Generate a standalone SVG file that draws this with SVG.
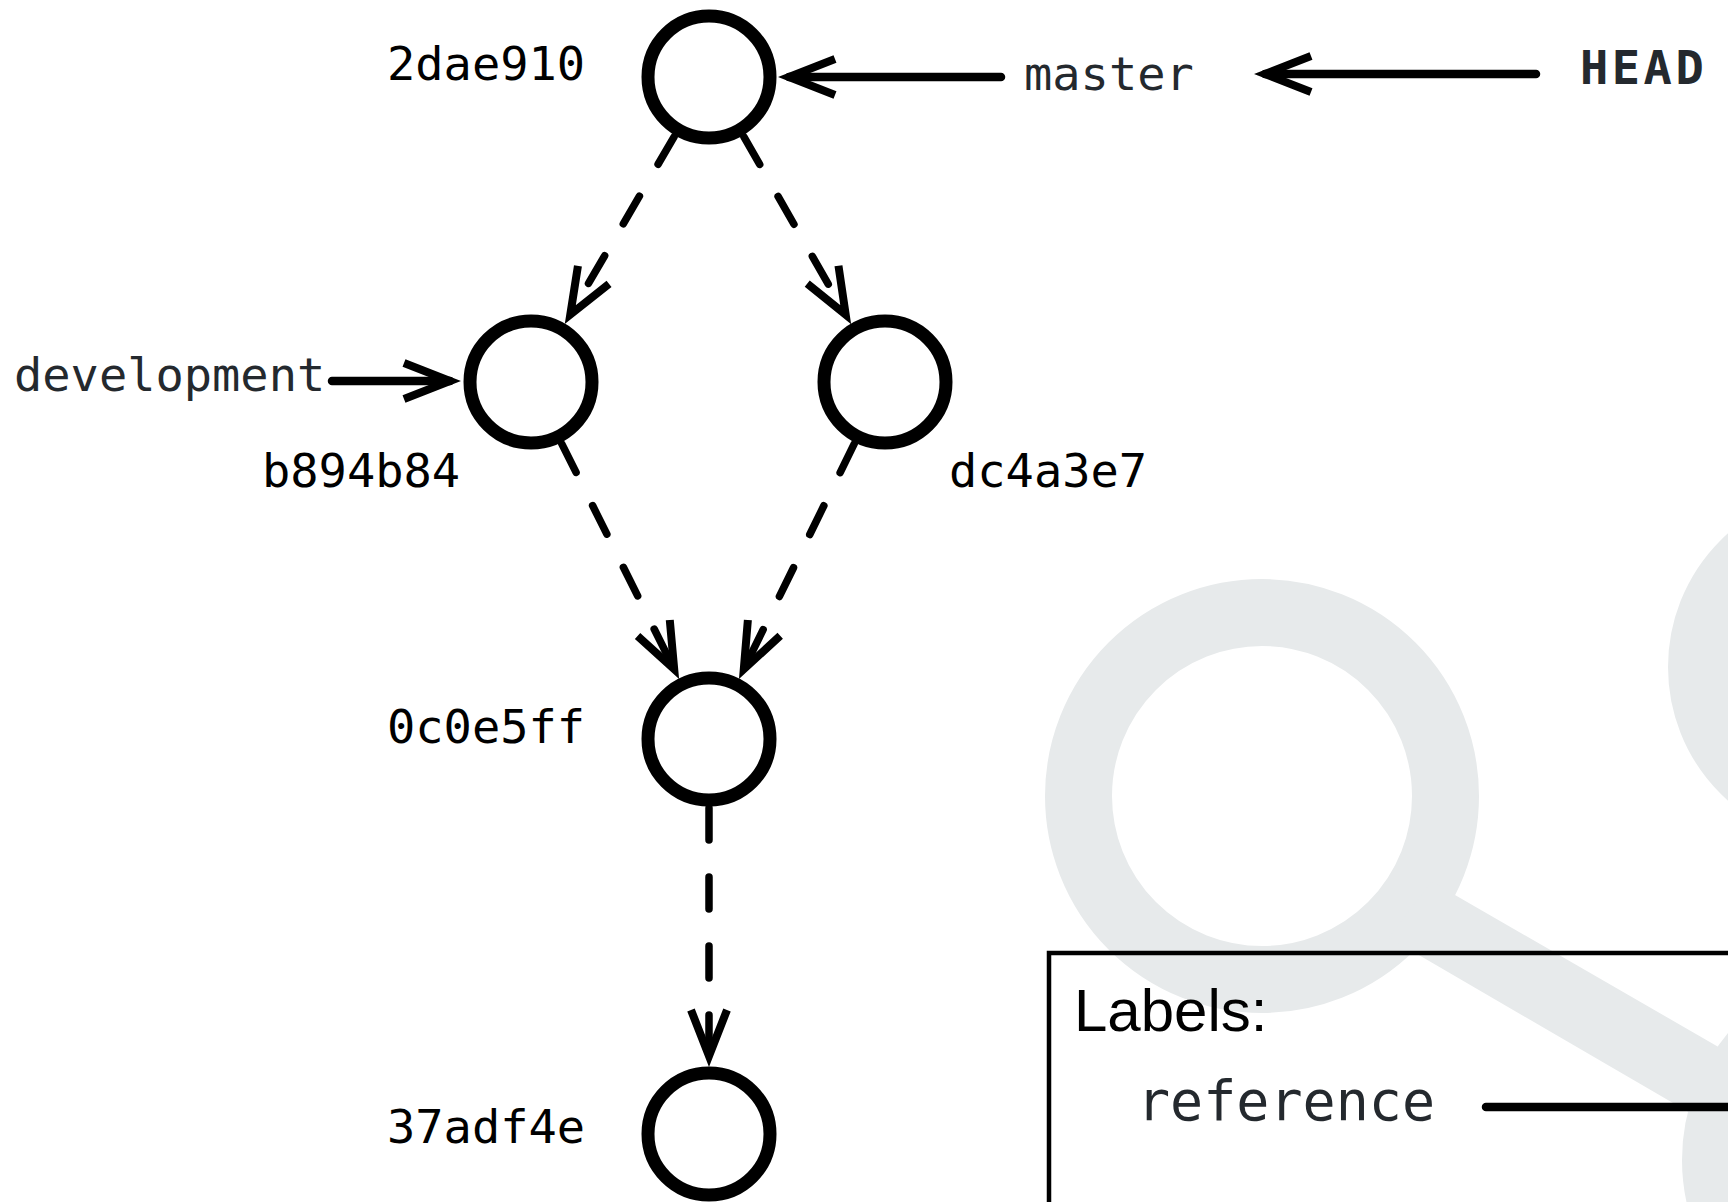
<svg xmlns="http://www.w3.org/2000/svg" width="1728" height="1202" viewBox="0 0 1728 1202">
  <style>
    .wm { fill: none; stroke: #e7eaeb; stroke-width: 67; }
    .node { fill: #ffffff; stroke: #000000; stroke-width: 13; }
    .edge { fill: none; stroke: #000000; stroke-width: 7.5; stroke-linecap: round; stroke-dasharray: 32 37; }
    .ref { fill: none; stroke: #000000; stroke-width: 8.5; stroke-linecap: round; }
    .hash { font-family: "DejaVu Sans Mono", "Liberation Mono", monospace; font-size: 47px; fill: #000000; }
    .refname { font-family: "DejaVu Sans Mono", "Liberation Mono", monospace; font-size: 47px; fill: #24292e; }
  </style>
  <defs>
    <marker id="ah" markerUnits="userSpaceOnUse" markerWidth="80" markerHeight="60" viewBox="-60 -30 80 60" refX="0" refY="0" orient="auto" overflow="visible">
      <path d="M-46,-18 L0,0 L-46,18" fill="none" stroke="#000000" stroke-width="8" stroke-linejoin="miter" stroke-linecap="butt"/>
    </marker>
  </defs>
  <rect x="0" y="0" width="1728" height="1202" fill="#ffffff"/>

  <g id="watermark">
    <circle class="wm" cx="1262" cy="796" r="183.5"/>
    <circle class="wm" cx="1847" cy="667" r="145.5"/>
    <circle class="wm" cx="1880" cy="1160" r="164.5"/>
    <polygon points="1431.6,881.5 1800,1094 1800,1177 1388.8,937.6" fill="#e7eaeb"/>
  </g>

  <g id="legend">
    <rect x="1049" y="953" width="760" height="400" fill="none" stroke="#000000" stroke-width="4.5"/>
    <text x="1074" y="1031" font-family="'Liberation Sans', Arial, sans-serif" font-size="60" fill="#000000">Labels:</text>
    <text x="1137" y="1120" font-family="'DejaVu Sans Mono', 'Liberation Mono', monospace" font-size="55" fill="#24292e">reference</text>
    <line class="ref" x1="1486" y1="1107" x2="1760" y2="1107" stroke-width="9.5"/>
  </g>

  <g id="connectors">
    <line class="edge" x1="674.2" y1="136.6" x2="570.3" y2="314.6" marker-end="url(#ah)"/>
    <line class="edge" x1="743.8" y1="136.6" x2="845.7" y2="314.6" marker-end="url(#ah)"/>
    <line class="edge" x1="561.8" y1="443.8" x2="674.2" y2="669.2" marker-end="url(#ah)"/>
    <line class="edge" x1="854.2" y1="443.8" x2="743.8" y2="669.2" marker-end="url(#ah)"/>
    <line class="edge" x1="709" y1="808" x2="709" y2="1056" marker-end="url(#ah)"/>
    <line class="ref" x1="1001" y1="77" x2="789" y2="77" marker-end="url(#ah)"/>
    <line class="ref" x1="1536" y1="74" x2="1265" y2="74" marker-end="url(#ah)"/>
    <line class="ref" x1="332" y1="381" x2="450" y2="381" marker-end="url(#ah)"/>
  </g>

  <g id="node-2dae910">
    <circle class="node" cx="709" cy="77" r="61"/>
    <text class="hash" x="387" y="80">2dae910</text>
  </g>
  <g id="node-b894b84">
    <circle class="node" cx="531" cy="382" r="61"/>
    <text class="hash" x="262" y="487">b894b84</text>
  </g>
  <g id="node-dc4a3e7">
    <circle class="node" cx="885" cy="382" r="61"/>
    <text class="hash" x="949" y="487">dc4a3e7</text>
  </g>
  <g id="node-0c0e5ff">
    <circle class="node" cx="709" cy="739" r="61"/>
    <text class="hash" x="387" y="743">0c0e5ff</text>
  </g>
  <g id="node-37adf4e">
    <circle class="node" cx="709" cy="1134" r="61"/>
    <text class="hash" x="387" y="1143">37adf4e</text>
  </g>
  <g id="ref-master">
    <text class="refname" x="1024" y="90">master</text>
  </g>
  <g id="ref-HEAD">
    <text class="refname" x="1580" y="84" font-weight="bold" font-size="51" letter-spacing="3.5">HEAD</text>
  </g>
  <g id="ref-development">
    <text class="refname" x="14" y="391">development</text>
  </g>
</svg>
